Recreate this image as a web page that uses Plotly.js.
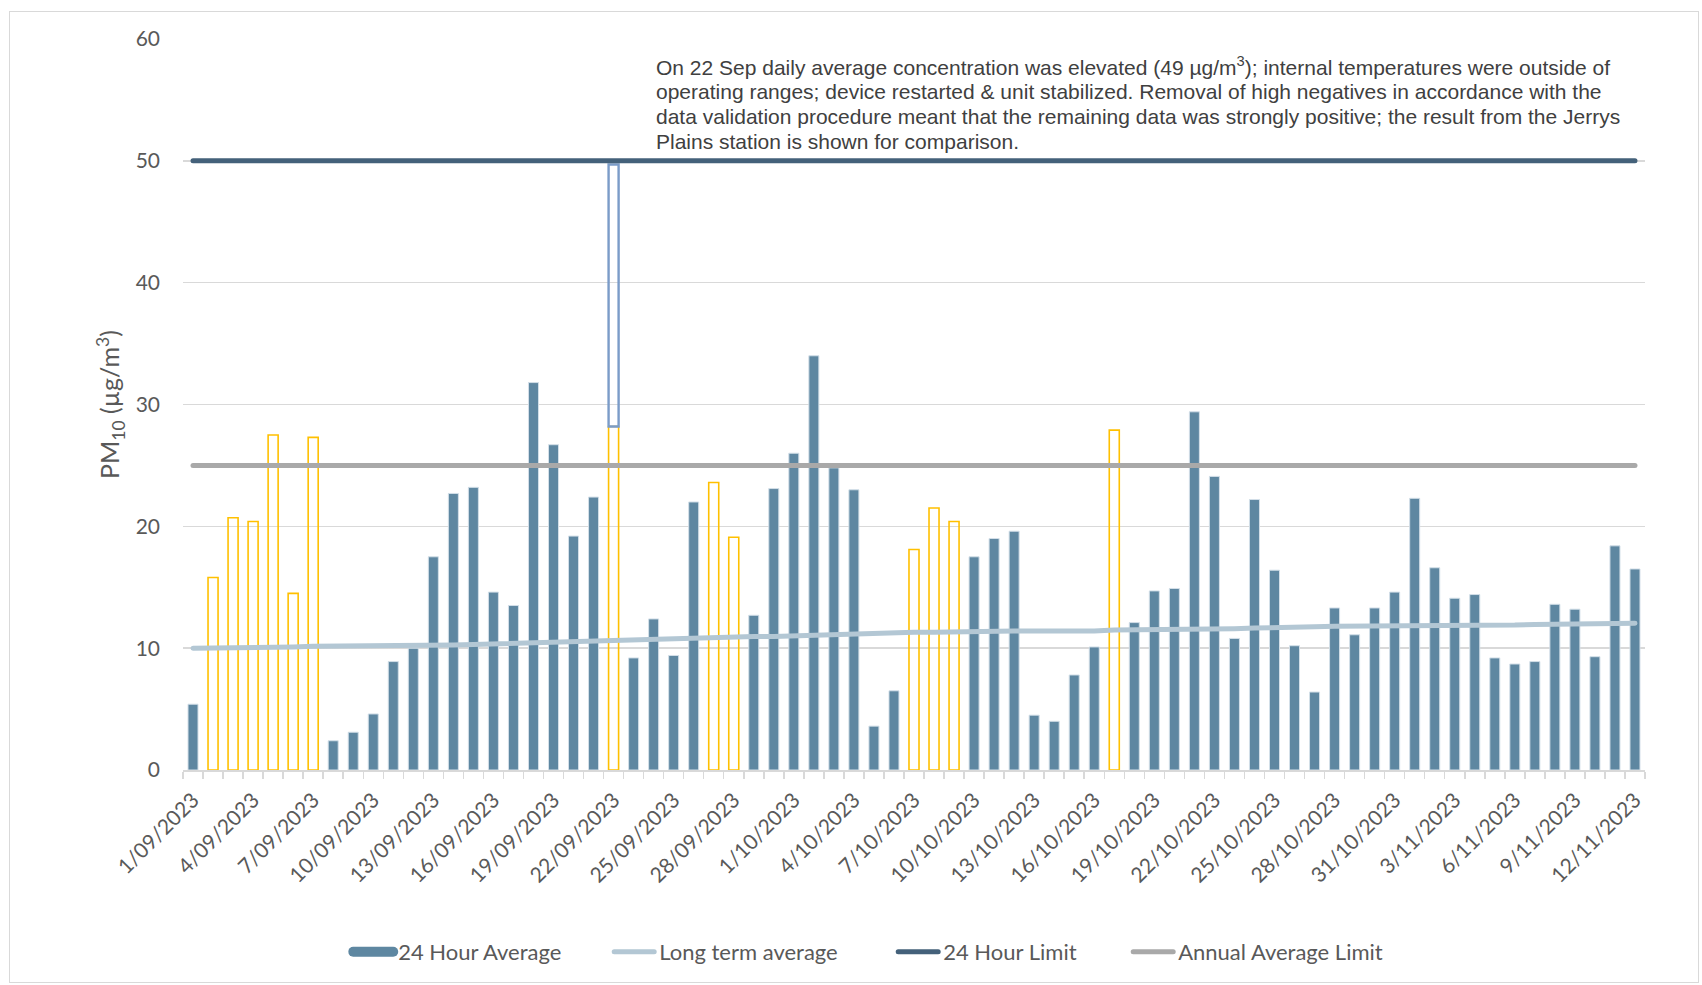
<!DOCTYPE html>
<html>
<head>
<meta charset="utf-8">
<script src="https://cdn.plot.ly/plotly-3.0.1.min.js"></script>
<style>
  html, body { margin: 0; padding: 0; background: #ffffff; }
  #chart { width: 1702px; height: 985px; }
  #frame { position: absolute; left: 9px; top: 11px; width: 1690px; height: 972px;
           border: 1.5px solid #D9D9D9; pointer-events: none; box-sizing: border-box; }
  .scatterlayer .js-line, .legend .js-line { stroke-linecap: round; }
</style>
</head>
<body>
<div id="chart"></div>
<div id="frame"></div>
<script>
// ---- Data ----
const categories = [
  '1/09/2023','2/09/2023','3/09/2023','4/09/2023','5/09/2023','6/09/2023','7/09/2023','8/09/2023','9/09/2023','10/09/2023',
  '11/09/2023','12/09/2023','13/09/2023','14/09/2023','15/09/2023','16/09/2023','17/09/2023','18/09/2023','19/09/2023','20/09/2023',
  '21/09/2023','22/09/2023','23/09/2023','24/09/2023','25/09/2023','26/09/2023','27/09/2023','28/09/2023','29/09/2023','30/09/2023',
  '1/10/2023','2/10/2023','3/10/2023','4/10/2023','5/10/2023','6/10/2023','7/10/2023','8/10/2023','9/10/2023','10/10/2023',
  '11/10/2023','12/10/2023','13/10/2023','14/10/2023','15/10/2023','16/10/2023','17/10/2023','18/10/2023','19/10/2023','20/10/2023',
  '21/10/2023','22/10/2023','23/10/2023','24/10/2023','25/10/2023','26/10/2023','27/10/2023','28/10/2023','29/10/2023','30/10/2023',
  '31/10/2023','1/11/2023','2/11/2023','3/11/2023','4/11/2023','5/11/2023','6/11/2023','7/11/2023','8/11/2023','9/11/2023',
  '10/11/2023','11/11/2023','12/11/2023'
];

// 24 hour average (valid station data); null where substituted
const avg24 = [
  5.4, null, null, null, null, null, null, 2.4, 3.1, 4.6,
  8.9, 10.0, 17.5, 22.7, 23.2, 14.6, 13.5, 31.8, 26.7, 19.2,
  22.4, null, 9.2, 12.4, 9.4, 22.0, null, null, 12.7, 23.1,
  26.0, 34.0, 24.8, 23.0, 3.6, 6.5, null, null, null, 17.5,
  19.0, 19.6, 4.5, 4.0, 7.8, 10.1, null, 12.1, 14.7, 14.9,
  29.4, 24.1, 10.8, 22.2, 16.4, 10.2, 6.4, 13.3, 11.1, 13.3,
  14.6, 22.3, 16.6, 14.1, 14.4, 9.2, 8.7, 8.9, 13.6, 13.2,
  9.3, 18.4, 16.5
];

// Jerrys Plains comparison values (yellow outline bars)
const jerrysPlains = [
  null, 15.8, 20.7, 20.4, 27.5, 14.5, 27.3, null, null, null,
  null, null, null, null, null, null, null, null, null, null,
  null, 28.2, null, null, null, null, 23.6, 19.1, null, null,
  null, null, null, null, null, null, 18.1, 21.5, 20.4, null,
  null, null, null, null, null, null, 27.9, null, null, null,
  null, null, null, null, null, null, null, null, null, null,
  null, null, null, null, null, null, null, null, null, null,
  null, null, null
];

// Invalidated elevated reading on 22 Sep
const invalidDay = ['22/09/2023'];
const invalidValue = [49.7];

// Long term average
const longTermAvg = [
  10.0, 10.0, 10.05, 10.05, 10.1, 10.1, 10.15, 10.15, 10.15, 10.15,
  10.15, 10.15, 10.2, 10.25, 10.3, 10.35, 10.4, 10.45, 10.5, 10.55,
  10.6, 10.7, 10.75, 10.75, 10.8, 10.8, 10.85, 10.9, 10.95, 10.95,
  11.0, 11.1, 11.2, 11.2, 11.25, 11.25, 11.3, 11.3, 11.35, 11.4,
  11.4, 11.4, 11.4, 11.4, 11.35, 11.4, 11.5, 11.5, 11.55, 11.55,
  11.6, 11.6, 11.6, 11.65, 11.65, 11.7, 11.75, 11.8, 11.8, 11.8,
  11.8, 11.85, 11.9, 11.9, 11.9, 11.9, 11.9, 11.95, 11.95, 12.0,
  12.0, 12.05, 12.05
];

const limit24h = 50;
const annualLimit = 25;

const tickLabels = [
  '1/09/2023','4/09/2023','7/09/2023','10/09/2023','13/09/2023','16/09/2023','19/09/2023','22/09/2023','25/09/2023',
  '28/09/2023','1/10/2023','4/10/2023','7/10/2023','10/10/2023','13/10/2023','16/10/2023','19/10/2023','22/10/2023',
  '25/10/2023','28/10/2023','31/10/2023','3/11/2023','6/11/2023','9/11/2023','12/11/2023'
];

const yTicks = [0, 10, 20, 30, 40, 50, 60];

const noteLines = [
  'On 22 Sep daily average concentration was elevated (49 µg/m<sup>3</sup>); internal temperatures were outside of',
  'operating ranges; device restarted &amp; unit stabilized. Removal of high negatives in accordance with the',
  'data validation procedure meant that the remaining data was strongly positive; the result from the Jerrys',
  'Plains station is shown for comparison.'
];

// ---- Derived ----
const jerrysAtInvalid = invalidDay.map(d => jerrysPlains[categories.indexOf(d)] || 0);
const tickText = categories.map(c => tickLabels.includes(c) ? c : '');

const traces = [
  {
    type: 'bar', name: '24 Hour Average', x: categories, y: avg24, showlegend: false,
    marker: { color: '#5E87A1', line: { color: '#D3DFE8', width: 1 } },
    hoverinfo: 'x+y'
  },
  {
    type: 'bar', name: 'Jerrys Plains', x: categories, y: jerrysPlains, showlegend: false,
    marker: { color: 'rgba(255,255,255,0)', line: { color: '#FFC000', width: 1.6 } },
    hoverinfo: 'x+y'
  },
  {
    type: 'bar', name: 'Invalid', x: invalidDay, base: jerrysAtInvalid,
    y: invalidValue.map((v, i) => v - jerrysAtInvalid[i]), showlegend: false,
    marker: { color: 'rgba(255,255,255,0)', line: { color: '#7B9CC8', width: 2.4 } },
    hoverinfo: 'x'
  },
  {
    // legend key for the bar series (wide rectangle like the reference)
    type: 'scatter', mode: 'lines', name: '24 Hour Average', x: [null], y: [null],
    line: { color: '#5E87A1', width: 15 }, hoverinfo: 'skip', legendwidth: 206
  },
  {
    type: 'scatter', mode: 'lines', name: 'Long term average', x: categories, y: longTermAvg,
    line: { color: '#B3C7D4', width: 5 }, legendwidth: 229
  },
  {
    type: 'scatter', mode: 'lines', name: '24 Hour Limit', x: categories, y: categories.map(() => limit24h),
    line: { color: '#44617A', width: 5 }, legendwidth: 180
  },
  {
    type: 'scatter', mode: 'lines', name: 'Annual Average Limit', x: categories, y: categories.map(() => annualLimit),
    line: { color: '#A9A9A9', width: 5 }, legendwidth: 220
  }
];

const noteY = [0.9628, 0.9286, 0.8946, 0.8604];

const layout = {
  width: 1702, height: 985,
  paper_bgcolor: '#ffffff', plot_bgcolor: '#ffffff',
  margin: { l: 183, r: 57, t: 39, b: 215 },
  barmode: 'overlay',
  bargap: 0.5,
  font: { family: 'Lato, "Open Sans", sans-serif', color: '#595959', size: 20 },
  showlegend: true,
  legend: {
    orientation: 'h', x: 0.113, xanchor: 'left', y: -0.249, yanchor: 'middle',
    font: { family: 'Lato, sans-serif', size: 22, color: '#595959' },
    traceorder: 'normal', itemwidth: 40
  },
  xaxis: {
    type: 'category', range: [-0.5, categories.length - 0.5],
    tickmode: 'array', tickvals: categories, ticktext: tickText,
    tickangle: -45, tickson: 'boundaries', ticks: 'outside', ticklen: 7, tickcolor: '#D9D9D9', tickwidth: 1.5,
    ticklabelstandoff: 8,
    showline: true, linecolor: '#D9D9D9', linewidth: 1.5,
    showgrid: false, zeroline: false, fixedrange: true,
    tickfont: { family: 'Lato, sans-serif', size: 21, color: '#595959' },
    automargin: false
  },
  yaxis: {
    range: [0, 60], tickmode: 'array', tickvals: yTicks,
    showgrid: true, gridcolor: '#D9D9D9', gridwidth: 1.5, zeroline: false,
    showline: false, ticks: '', ticklabelstandoff: 22,
    tickfont: { family: 'Lato, sans-serif', size: 21, color: '#595959' },
    title: { text: 'PM<sub>10</sub> (µg/m<sup>3</sup>)', font: { family: 'Lato, sans-serif', size: 25, color: '#595959' }, standoff: 8 },
    automargin: false
  },
  annotations: noteLines.map((t, i) => ({
    xref: 'paper', yref: 'paper', x: 0.322, y: noteY[i], xanchor: 'left', yanchor: 'middle',
    align: 'left', showarrow: false, text: t,
    font: { family: '"Liberation Sans", Arial, sans-serif', size: 21, color: '#404040' }
  }))
};

Plotly.newPlot('chart', traces, layout, { displayModeBar: false, staticPlot: true });
</script>
</body>
</html>
